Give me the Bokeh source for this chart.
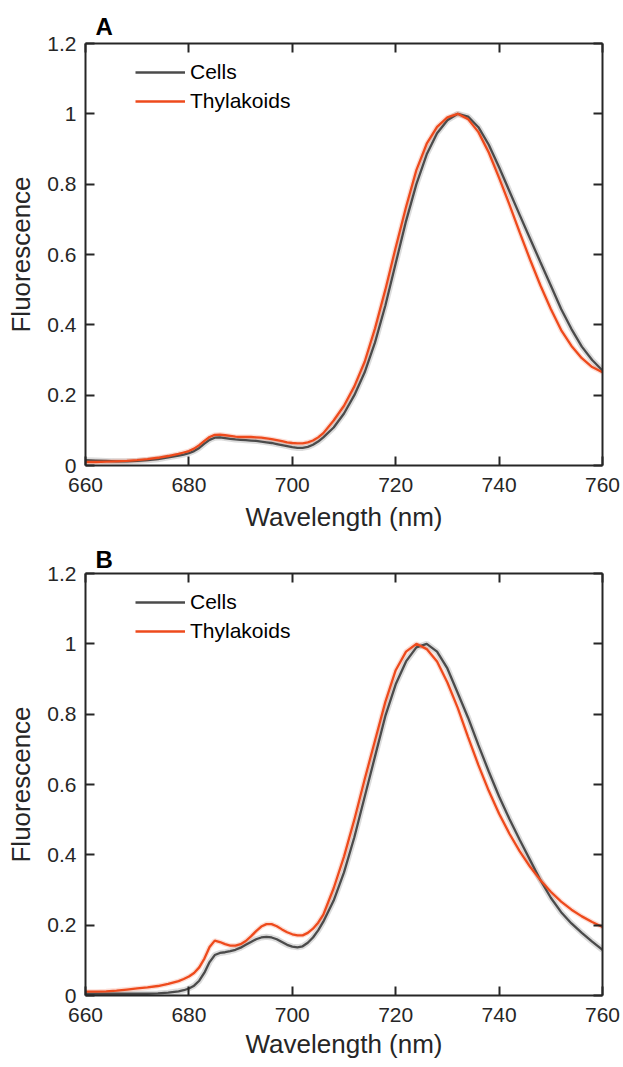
from bokeh.plotting import figure
from bokeh.models import Range1d, LinearAxis, FixedTicker, Legend, LegendItem, CustomLabelingPolicy
from bokeh.layouts import column
from bokeh.embed import file_html
from bokeh.resources import INLINE

# ---------------- data ----------------
wavelength = [660, 662, 664, 666, 668, 670, 672, 674, 676,
              678, 679, 680, 681, 682, 683, 684, 685, 686, 687, 688, 689, 690,
              691, 692, 693, 694, 695, 696, 697, 698, 699, 700, 701, 702, 703,
              704, 705, 706,
              708, 710, 712, 714, 716, 718, 720, 722, 724, 726, 728, 730, 732,
              734, 736, 738, 740, 742, 744, 746, 748, 750, 752, 754, 756, 758, 760]

a_cells = [0.015, 0.014, 0.013, 0.012, 0.012, 0.013, 0.015, 0.018, 0.023,
           0.028, 0.031, 0.035, 0.041, 0.050, 0.062, 0.073, 0.079, 0.080, 0.078,
           0.076, 0.074, 0.073, 0.072, 0.071, 0.070, 0.068, 0.066, 0.064, 0.061,
           0.058, 0.055, 0.052, 0.050, 0.050, 0.053, 0.059, 0.068, 0.080,
           0.108, 0.148, 0.200, 0.265, 0.350, 0.455, 0.575, 0.695, 0.800, 0.885,
           0.945, 0.982, 1.000, 0.992, 0.962, 0.912, 0.848, 0.780, 0.712, 0.645,
           0.578, 0.512, 0.445, 0.388, 0.338, 0.300, 0.270]

a_thylakoids = [0.010, 0.010, 0.011, 0.012, 0.013, 0.015, 0.018, 0.022, 0.027,
                0.033, 0.037, 0.041, 0.048, 0.058, 0.070, 0.081, 0.087, 0.088,
                0.086, 0.084, 0.082, 0.081, 0.081, 0.081, 0.080, 0.079, 0.077,
                0.075, 0.072, 0.069, 0.066, 0.064, 0.063, 0.063, 0.066, 0.071,
                0.080, 0.092,
                0.128, 0.170, 0.225, 0.295, 0.390, 0.500, 0.620, 0.735, 0.840,
                0.915, 0.963, 0.990, 1.000, 0.985, 0.948, 0.890, 0.818, 0.742,
                0.662, 0.585, 0.512, 0.445, 0.385, 0.340, 0.305, 0.280, 0.265]

b_cells = [0.005, 0.005, 0.005, 0.005, 0.005, 0.005, 0.005, 0.006, 0.008,
           0.012, 0.015, 0.020, 0.028, 0.042, 0.065, 0.095, 0.115, 0.121, 0.123,
           0.126, 0.130, 0.136, 0.144, 0.152, 0.160, 0.165, 0.167, 0.165, 0.160,
           0.152, 0.144, 0.139, 0.137, 0.140, 0.150, 0.165, 0.185, 0.210,
           0.270, 0.350, 0.450, 0.565, 0.680, 0.795, 0.885, 0.950, 0.990, 1.000,
           0.978, 0.930, 0.860, 0.790, 0.712, 0.637, 0.566, 0.502, 0.442, 0.385,
           0.328, 0.278, 0.237, 0.205, 0.178, 0.153, 0.130]

b_thylakoids = [0.011, 0.011, 0.012, 0.014, 0.017, 0.020, 0.023, 0.027, 0.033,
                0.041, 0.047, 0.054, 0.064, 0.080, 0.105, 0.138, 0.156, 0.152,
                0.146, 0.142, 0.142, 0.146, 0.155, 0.168, 0.183, 0.196, 0.203,
                0.203, 0.197, 0.188, 0.180, 0.174, 0.171, 0.171, 0.178, 0.190,
                0.207, 0.230,
                0.305, 0.395, 0.500, 0.615, 0.725, 0.835, 0.925, 0.978, 1.000,
                0.985, 0.950, 0.890, 0.818, 0.735, 0.655, 0.582, 0.517, 0.460,
                0.410, 0.366, 0.328, 0.295, 0.267, 0.244, 0.225, 0.209, 0.195]

x_ticks = [660, 680, 700, 720, 740, 760]
y_ticks = [0, 0.2, 0.4, 0.6, 0.8, 1.0, 1.2]
y_tick_labels = {0: "0", 0.2: "0.2", 0.4: "0.4", 0.6: "0.6", 0.8: "0.8", 1: "1", 1.2: "1.2"}
series_names = ["Cells", "Thylakoids"]
panel_letters = ["A", "B"]

# ---------------- style ----------------
FONT = "Liberation Sans"
AX = "#262626"
GRAY = "#4b4b4b"
ORANGE = "#ee4a1c"


def style_axis(ax, ticks, labels_on):
    ax.ticker = FixedTicker(ticks=ticks)
    ax.axis_line_width = 2
    ax.axis_line_color = AX
    ax.major_tick_in = 9
    ax.major_tick_out = 0
    ax.major_tick_line_width = 2
    ax.major_tick_line_color = AX
    ax.minor_tick_line_color = None
    ax.major_label_text_font = FONT
    ax.major_label_text_color = AX
    if labels_on:
        ax.major_label_text_font_size = "21px"
    else:
        ax.major_label_text_font_size = "0px"
        ax.major_label_standoff = 0
        ax.major_label_policy = CustomLabelingPolicy(
            code="for (const i of indices) { if (i < 0) { yield i } }")


def make_panel(letter, cells, thyl, height, top_border, bottom_border,
               xlabel_standoff, title_standoff):
    p = figure(width=620, height=height, output_backend="svg", toolbar_location=None,
               x_range=Range1d(660, 760), y_range=Range1d(0, 1.2),
               min_border_left=85, min_border_right=18, min_border_top=top_border,
               min_border_bottom=bottom_border,
               x_axis_label="Wavelength (nm)", y_axis_label="Fluorescence")
    p.grid.visible = False
    p.outline_line_color = None
    p.background_fill_color = "white"
    p.border_fill_color = "white"

    p.title.text = letter
    p.title.text_font = FONT
    p.title.text_font_style = "bold"
    p.title.text_font_size = "24px"
    p.title.text_color = "black"
    p.title.align = "left"
    p.title.offset = 10
    p.title.standoff = title_standoff

    xa = p.xaxis[0]
    ya = p.yaxis[0]
    style_axis(xa, x_ticks, True)
    style_axis(ya, y_ticks, True)
    ya.major_label_overrides = {k: v for k, v in y_tick_labels.items()}
    xa.major_label_standoff = 12
    ya.major_label_standoff = 9
    for ax in (xa, ya):
        ax.axis_label_text_font = FONT
        ax.axis_label_text_font_size = "26px"
        ax.axis_label_text_font_style = "normal"
        ax.axis_label_text_color = AX
    xa.axis_label_standoff = xlabel_standoff
    ya.axis_label_standoff = 8

    top = LinearAxis()
    style_axis(top, x_ticks, False)
    p.add_layout(top, "above")
    right = LinearAxis()
    style_axis(right, y_ticks, False)
    p.add_layout(right, "right")

    # shaded spread (semi-transparent wide lines)
    p.line(wavelength, cells, line_width=6, color="#9a9a9a", alpha=0.35)
    p.line(wavelength, thyl, line_width=5, color=ORANGE, alpha=0.18)
    rc = p.line(wavelength, cells, line_width=2.3, color=GRAY)
    rt = p.line(wavelength, thyl, line_width=2.3, color=ORANGE)

    legend = Legend(items=[LegendItem(label=series_names[0], renderers=[rc]),
                           LegendItem(label=series_names[1], renderers=[rt])],
                    location=(50, 352))
    legend.border_line_color = None
    legend.background_fill_alpha = 0
    legend.padding = 0
    legend.margin = 0
    legend.spacing = 5
    legend.glyph_width = 50
    legend.glyph_height = 22
    legend.label_height = 22
    legend.label_standoff = 5
    legend.label_text_font = FONT
    legend.label_text_font_size = "21px"
    legend.label_text_color = "black"
    p.add_layout(legend)
    return p


pA = make_panel(panel_letters[0], a_cells, a_thylakoids, 541, 43, 76, 7, 8)
pB = make_panel(panel_letters[1], b_cells, b_thylakoids, 525, 32, 71, 4, 2)

layout = column(pA, pB, spacing=0)
open("out.html", "w").write(file_html(layout, INLINE))
